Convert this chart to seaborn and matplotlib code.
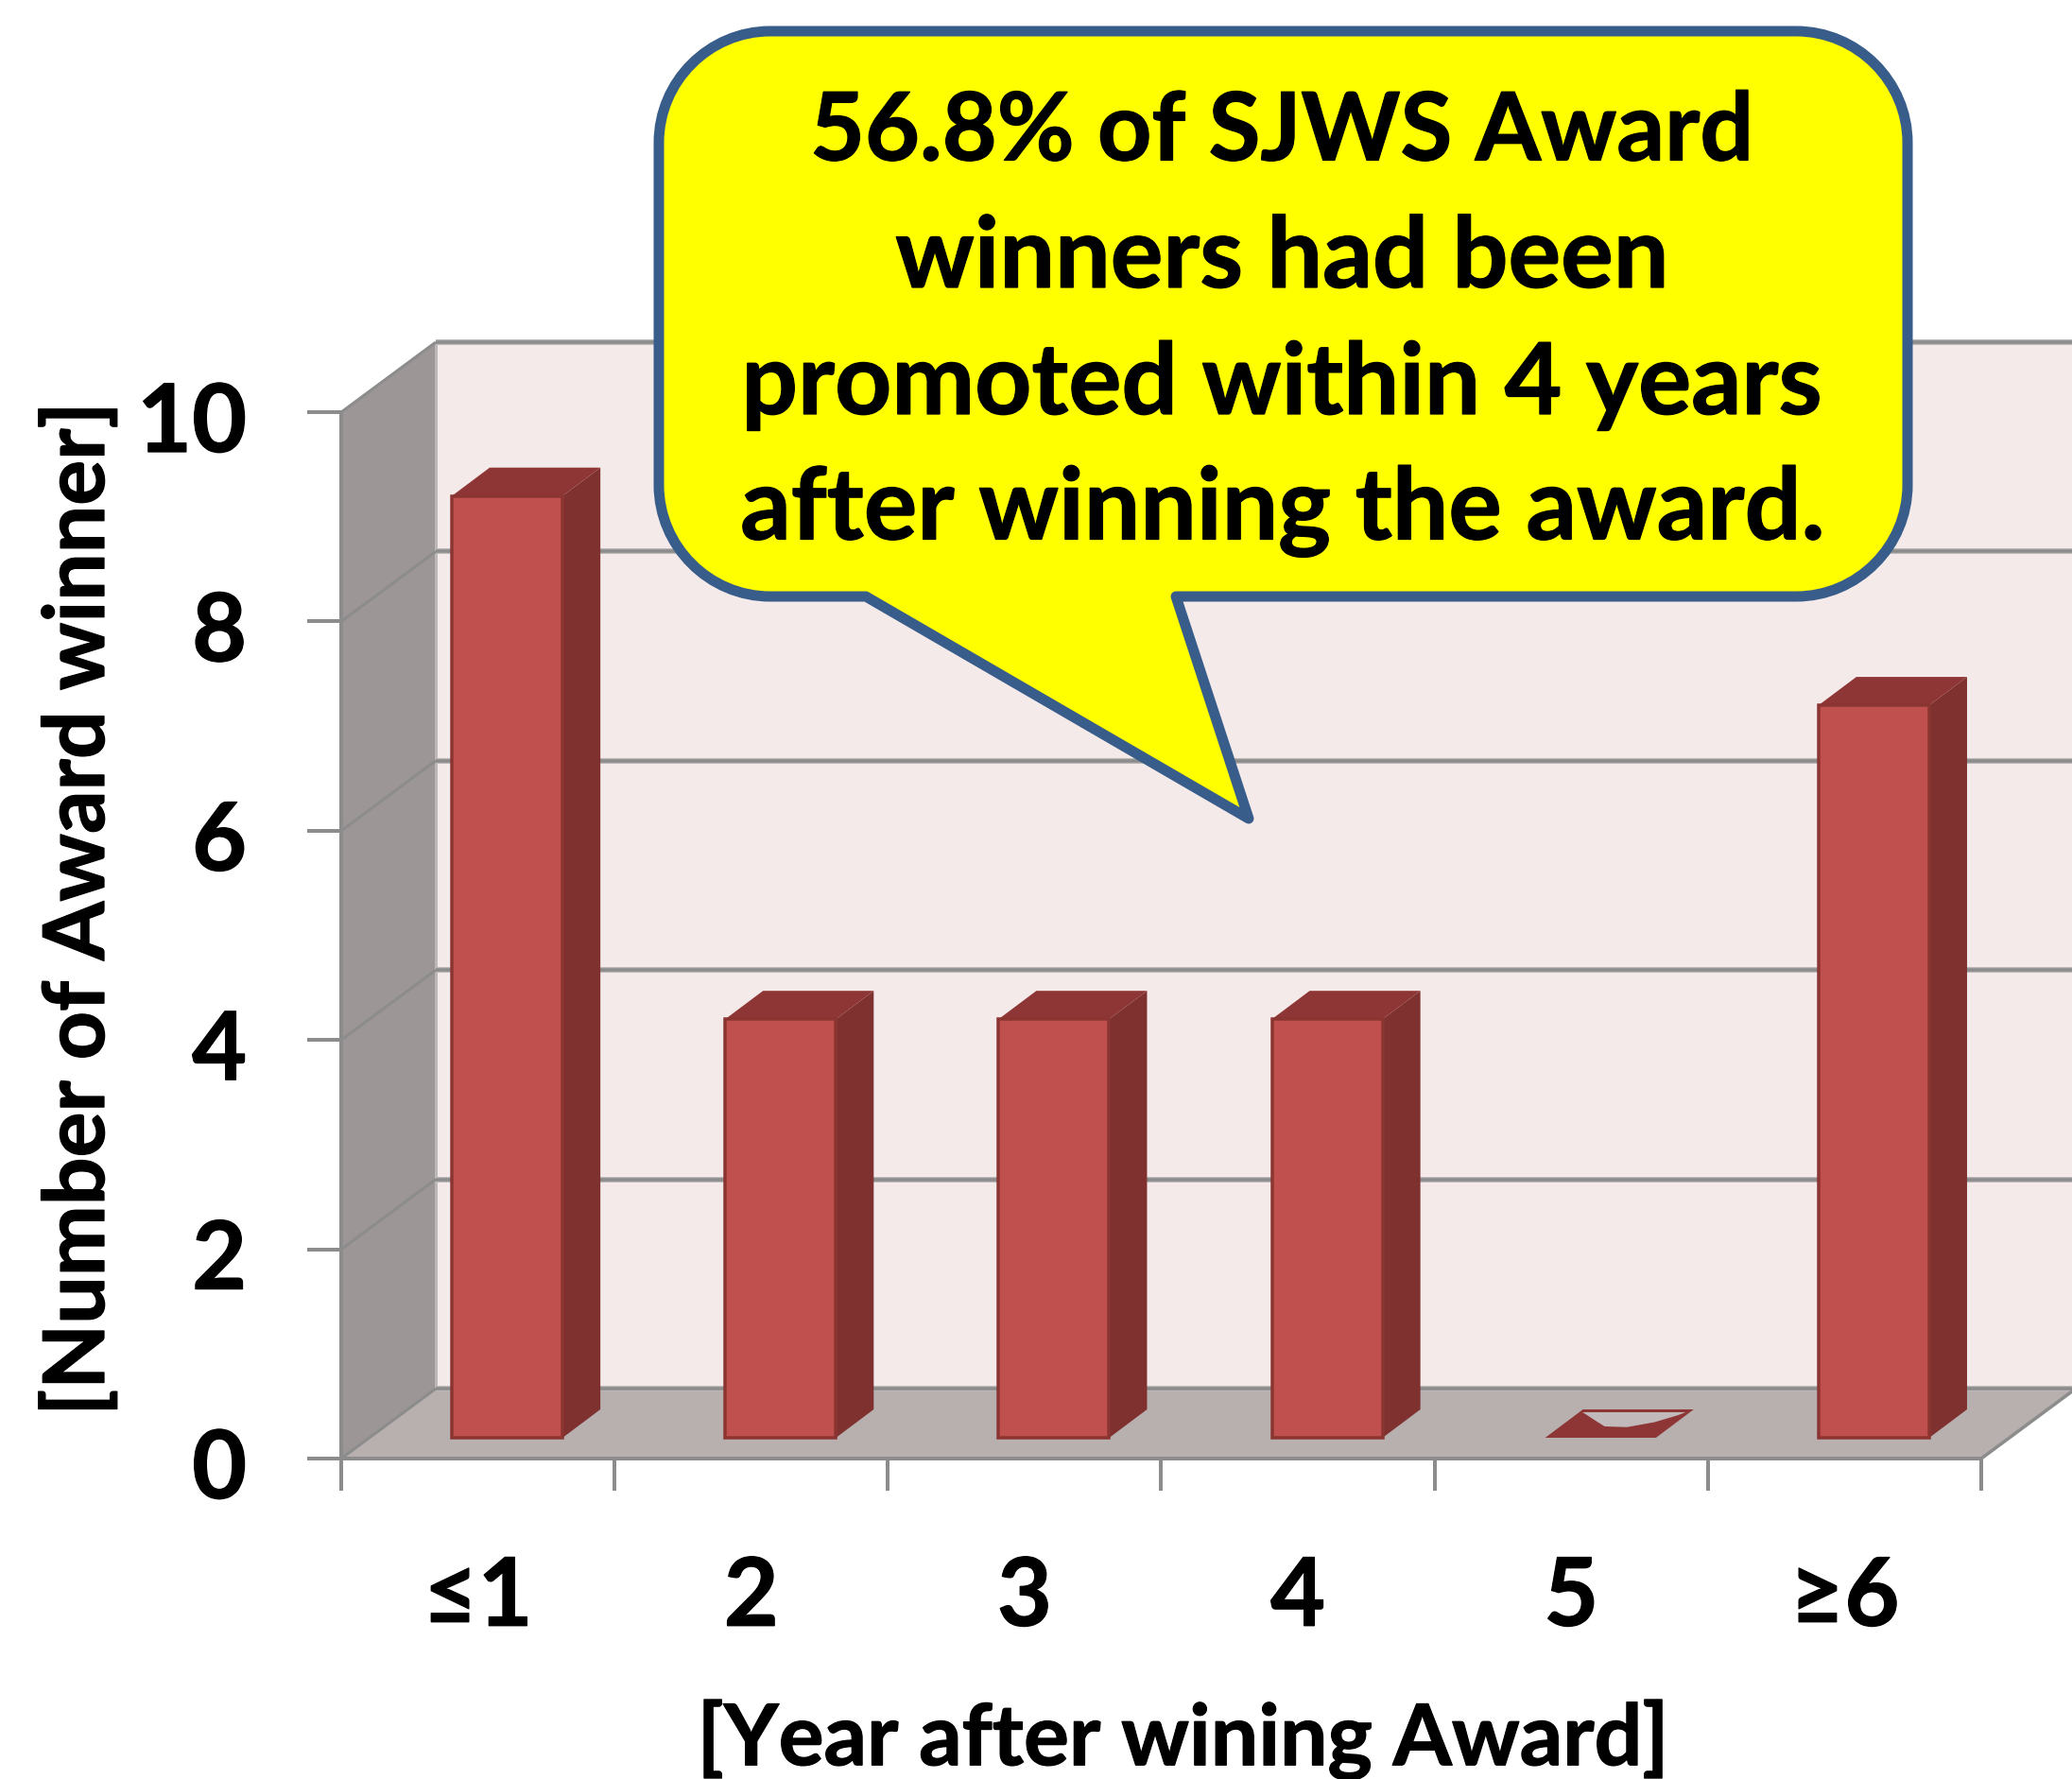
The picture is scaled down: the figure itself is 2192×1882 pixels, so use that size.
import matplotlib
matplotlib.use("Agg")
import matplotlib.pyplot as plt
import matplotlib.patheffects as pe
import seaborn as sns
import pandas as pd
import numpy as np
from matplotlib.patches import Polygon, PathPatch
from matplotlib.path import Path
from matplotlib.transforms import IdentityTransform, Affine2D

categories = ["≤1", "2", "3", "4", "5", "≥6"]
winners = [9, 4, 4, 4, 0, 7]
y_ticks = [0, 2, 4, 6, 8, 10]
callout_lines = ["56.8% of SJWS Award", "winners had been",
                 "promoted within 4 years", "after winning the award."]
xlabel = "[Year after wining Award]"
ylabel = "[Number of Award winner]"

W, H = 2192, 1883
FACE, SIDE, TOP, EDGE = "#C0504D", "#7F3130", "#8E3635", "#8B3533"
WALL, FLOOR, LWALL, LINE, HALO = "#F5EAEA", "#B8AFAF", "#9C9696", "#8C8C8C", "#BDB8B8"
BLUE, YEL = "#385D8A", "#FFFF00"
LW = 0.72

sns.set_theme(style="white")
plt.rcParams["font.family"] = ["Lato", "DejaVu Sans"]
plt.rcParams["font.weight"] = "bold"
thick = [pe.withStroke(linewidth=0.9, foreground="black")]

fig = plt.figure(figsize=(W / 100, H / 100), dpi=100, facecolor="white")
L, R, T, B = 361, 2096, 437, 1544
ax = fig.add_axes([L / W, 1 - B / H, (R - L) / W, (B - T) / H])
ax.patch.set_visible(False)

df = pd.DataFrame({"year": categories, "n": winners})
sns.barplot(data=df, x="year", y="n", order=categories, color=FACE, saturation=1,
            width=0.405, edgecolor=EDGE, linewidth=3.5 * LW, ax=ax, zorder=5)
ax.set_xlim(-0.5, 5.5)
ax.set_ylim(0, 10)

WD = (100, 74)    # chart depth in pixels
BS = (31, 22)     # bar front plane offset
BD = (40, 30)     # bar depth


def disp(x, y, off=(0, 0)):
    p = ax.transData.transform((x, y))
    return (p[0] + off[0], p[1] + off[1])


def poly(pts, fc, z, ec="none", lw=0):
    ax.add_patch(Polygon(pts, closed=True, fc=fc, ec=ec, lw=lw, zorder=z,
                         transform=IdentityTransform(), clip_on=False))


def seg(a, b, c=LINE, lw=3, z=2):
    ax.add_line(plt.Line2D([a[0], b[0]], [a[1], b[1]], color=c, lw=lw * LW, zorder=z,
                           transform=IdentityTransform(), clip_on=False,
                           solid_capstyle="butt"))


x0, x1 = -0.5, 5.5
bars = [p for p in ax.patches if p.get_zorder() == 5]
poly([disp(x0, 0, WD), disp(x0, 10, WD), disp(x1, 10, WD), disp(x1, 0, WD)], WALL, 0.5)
poly([disp(x0, 0), disp(x0, 10), disp(x0, 10, WD), disp(x0, 0, WD)], LWALL, 0.6)
poly([disp(x0, 0), disp(x1, 0), disp(x1, 0, WD), disp(x0, 0, WD)], FLOOR, 0.7)

seg(disp(x0, 0, WD), disp(x0, 10, WD), c=HALO, lw=3)
for v in y_ticks:
    seg(disp(x0, v, WD), disp(x1, v, WD), c=HALO, lw=6, z=1)
    seg(disp(x0, v, WD), disp(x1, v, WD), lw=3.5)
    seg(disp(x0, v), disp(x0, v, WD), lw=3)
seg(disp(x1, 0), disp(x1, 0, WD), lw=3.5)

# bar depth faces, taken from the bars seaborn drew
shift = Affine2D().translate(*BS)
for rect, val in zip(bars, winners):
    xa, w = rect.get_x(), rect.get_width()
    xb = xa + w
    oa = BS
    ob = (BS[0] + BD[0], BS[1] + BD[1])
    if val > 0:
        rect.set_transform(ax.transData + shift)
        rect.set_clip_on(False)
        poly([disp(xb, 0, oa), disp(xb, val, oa), disp(xb, val, ob), disp(xb, 0, ob)], SIDE, 4)
        poly([disp(xa, val, oa), disp(xb, val, oa), disp(xb, val, ob), disp(xa, val, ob)], TOP, 4)
    else:
        rect.set_visible(False)
        a, b = disp(xa, 0, oa), disp(xb, 0, oa)
        c, d = disp(xb, 0, ob), disp(xa, 0, ob)
        poly([a, b, c, d], TOP, 4)
        # floor showing through the collapsed column
        lerp = lambda u, v: (a[0] + (b[0] - a[0]) * u + (d[0] - a[0]) * v,
                             a[1] + (d[1] - a[1]) * v)
        poly([lerp(0.03, 0.9), lerp(0.25, 0.6), lerp(0.4, 0.4), lerp(0.61, 0.375),
              lerp(0.8, 0.55), lerp(0.93, 0.8), lerp(0.96, 0.9)], "#C2BABA", 4.5)

for s in ("top", "right"):
    ax.spines[s].set_visible(False)
for s in ("left", "bottom"):
    ax.spines[s].set_color(LINE)
    ax.spines[s].set_linewidth(4 * LW)
    ax.spines[s].set_zorder(6)

ax.set_yticks(y_ticks)
ax.set_xticks(np.arange(-0.5, 6, 1))
ax.set_xticklabels([])
ax.set_xticks(range(6), labels=categories, minor=True)
ax.tick_params(axis="x", which="major", length=34 * LW, width=4 * LW, color=LINE, bottom=True, direction="out")
ax.tick_params(axis="x", which="minor", length=0, pad=74, labelsize=72, bottom=True)
ax.tick_params(axis="y", length=36 * LW, width=4 * LW, color=LINE, left=True, pad=46, labelsize=72, direction="out")
for t in ax.get_xticklabels(minor=True) + ax.get_yticklabels():
    t.set_fontweight("bold")
    t.set_color("black")
    t.set_path_effects(thick)
for t in ax.get_yticklabels():
    t.set_transform(t.get_transform() + Affine2D().translate(0, -5))

ax.set_xlabel(xlabel, fontsize=64.5, fontweight="bold", color="black", va="center", path_effects=thick)
ax.set_ylabel(ylabel, fontsize=64.5, fontweight="bold", color="black", va="center", path_effects=thick)
ax.xaxis.set_label_coords((1252 - L) / (R - L), (B - 1842) / (B - T))
ax.yaxis.set_label_coords((83 - L) / (R - L), (B - 962) / (B - T))

# callout, in image pixels
xl, xr, yt, yb, r = 697, 2018, 34, 632, 118
k = 0.45
tail = [(916, 632), (1321, 867), (1244, 632)]
verts = [(xl + r, yt), (xr - r, yt),
         (xr - r * k, yt), (xr, yt + r * k), (xr, yt + r),
         (xr, yb - r),
         (xr, yb - r * k), (xr - r * k, yb), (xr - r, yb),
         tail[2], tail[1], tail[0], (xl + r, yb),
         (xl + r * k, yb), (xl, yb - r * k), (xl, yb - r),
         (xl, yt + r),
         (xl, yt + r * k), (xl + r * k, yt), (xl + r, yt), (xl + r, yt)]
codes = [Path.MOVETO, Path.LINETO, Path.CURVE4, Path.CURVE4, Path.CURVE4, Path.LINETO,
         Path.CURVE4, Path.CURVE4, Path.CURVE4, Path.LINETO, Path.LINETO, Path.LINETO, Path.LINETO,
         Path.CURVE4, Path.CURVE4, Path.CURVE4, Path.LINETO,
         Path.CURVE4, Path.CURVE4, Path.CURVE4, Path.CLOSEPOLY]
flip = Affine2D().scale(1, -1).translate(0, H)
fig.add_artist(PathPatch(Path(verts, codes), fc=YEL, ec=BLUE, lw=11 * LW, joinstyle="round",
                         transform=flip, zorder=20))
for line, yy, fs in zip(callout_lines, [142, 275, 409, 542], [72, 75, 75.5, 76]):
    fig.text(970 * 1.398 / W, 1 - yy / H, line, ha="center", va="center", fontsize=fs,
             fontweight="bold", color="black", zorder=21, path_effects=thick)

fig.savefig("out.png", dpi=100, facecolor="white")
